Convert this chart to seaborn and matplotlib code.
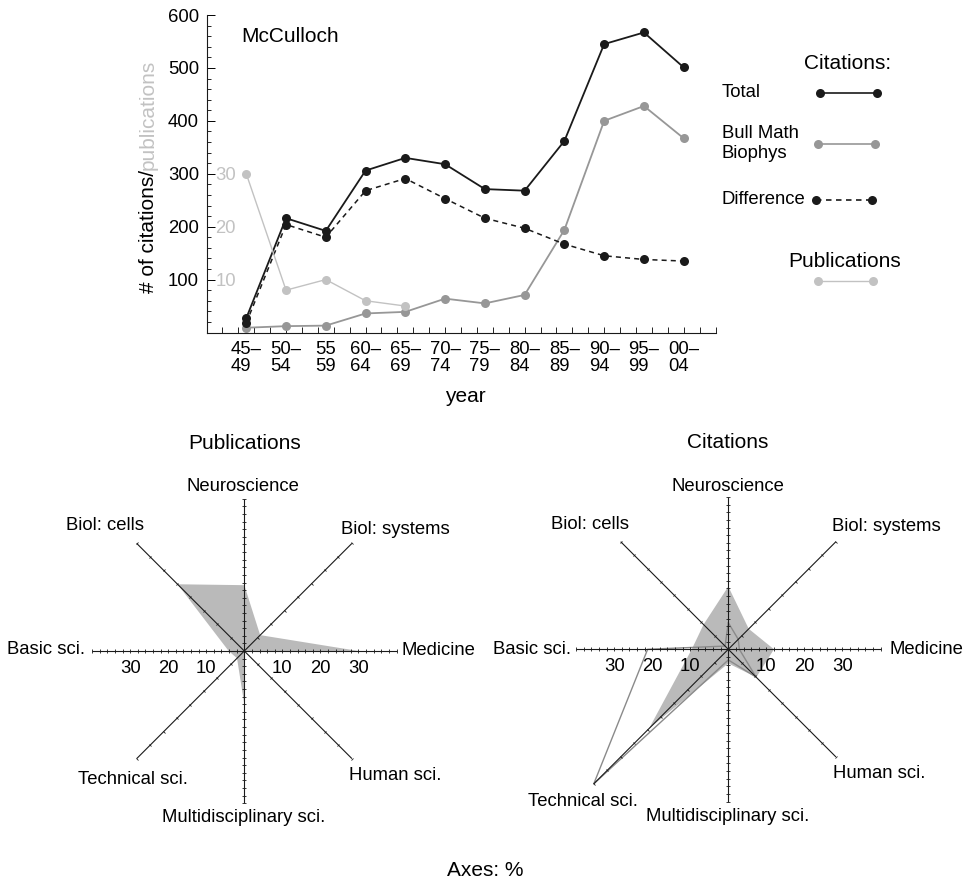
import numpy as np
import pandas as pd
import matplotlib
matplotlib.use("Agg")
import matplotlib.pyplot as plt
from matplotlib.lines import Line2D
from matplotlib.markers import MarkerStyle
from matplotlib.transforms import Affine2D
from matplotlib.ticker import MultipleLocator
import seaborn as sns

sns.set_style("white")
plt.rcParams['font.family'] = ['Liberation Sans', 'DejaVu Sans']
plt.rcParams['text.color'] = 'black'
plt.rcParams['axes.labelcolor'] = 'black'
plt.rcParams['xtick.color'] = 'black'
plt.rcParams['ytick.color'] = 'black'

# --- data: citations / publications over time ---
periods = ["45–\n49", "50–\n54", "55\n59", "60–\n64", "65–\n69", "70–\n74",
           "75–\n79", "80–\n84", "85–\n89", "90–\n94", "95–\n99", "00–\n04"]
period_start = [1945, 1950, 1955, 1960, 1965, 1970, 1975, 1980, 1985, 1990, 1995, 2000]
total = [27, 216, 192, 306, 330, 318, 271, 268, 362, 545, 567, 501]
bull_math = [9, 12, 13, 36, 39, 64, 55, 71, 194, 400, 428, 367]
difference = [18, 204, 180, 268, 291, 253, 216, 197, 167, 145, 138, 135]
publications = [30, 8, 10, 6, 5]

# --- data: distribution over fields (%) ---
fields = ["Neuroscience", "Biol: systems", "Medicine", "Human sci.",
          "Multidisciplinary sci.", "Technical sci.", "Basic sci.", "Biol: cells"]
pub_share = [17.3, 5.9, 30.0, 0.3, 14.0, 2.7, 4.1, 24.8]
cit_share_total = [16.5, 7.6, 12.0, 10.4, 3.7, 29.5, 9.6, 9.2]
cit_share_bmb = [7.0, 3.7, 2.9, 10.3, 2.8, 50.0, 21.2, 1.2]

BLACK = "#1a1a1a"
MID = "#979797"
LIGHT = "#c2c2c2"
FILL = "#bababa"

W, H = 966, 881
fig = plt.figure(figsize=(W / 100, H / 100), dpi=100)


def fx(px):
    return px / W


def fy(py):
    return 1 - py / H


# ---------------- top line chart ----------------
ax = fig.add_axes([fx(206.5), fy(332.5), (715.5 - 206.5) / W, (332.5 - 15) / H])
ax2 = ax.twinx()

df = pd.DataFrame({"start": period_start, "total": total,
                   "bmb": bull_math, "diff": difference})
dfp = pd.DataFrame({"start": period_start[:len(publications)], "pubs": publications})

sns.lineplot(data=dfp, x="start", y="pubs", ax=ax2, color=LIGHT, marker="o",
             markersize=6.5, markeredgewidth=0, linewidth=1.0)
sns.lineplot(data=df, x="start", y="bmb", ax=ax, color=MID, marker="o",
             markersize=6.5, markeredgewidth=0, linewidth=1.3)
sns.lineplot(data=df, x="start", y="diff", ax=ax, color=BLACK, marker="o",
             markersize=6.5, markeredgewidth=0, linewidth=1.1,
             linestyle=(0, (3.3, 2.7)))
sns.lineplot(data=df, x="start", y="total", ax=ax, color=BLACK, marker="o",
             markersize=6.5, markeredgewidth=0, linewidth=1.3)

ax.set_xlim(1940, 2004)
ax.set_ylim(0, 600)
ax2.set_ylim(0, 60)
ax.set_xlabel("")
ax.set_ylabel("")
ax2.set_ylabel("")

sns.despine(ax=ax)
for s in ax2.spines.values():
    s.set_visible(False)
for s in ("left", "bottom"):
    ax.spines[s].set_linewidth(0.8)
    ax.spines[s].set_color(BLACK)

ax.set_yticks(range(100, 700, 100))
ax.yaxis.set_minor_locator(MultipleLocator(20))
ax.tick_params(axis="y", which="major", direction="in", length=6, width=0.7,
               pad=5.5, labelsize=13.3, colors="black", left=True)
ax.tick_params(axis="y", which="minor", direction="in", length=3, width=0.6, left=True)

ax.set_xticks(period_start)
ax.set_xticklabels(periods, linespacing=1.05)
for t in ax.get_xticklabels():
    t.set_multialignment("left")
ax.set_xticks(np.arange(1940, 2005, 2), minor=True)
ax.xaxis.remove_overlapping_locs = False
ax.tick_params(axis="x", which="major", length=0, pad=6, labelsize=13.3, colors="black")
ax.tick_params(axis="x", which="minor", direction="in", length=4, width=0.6, bottom=True)

ax2.yaxis.set_ticks_position("left")
ax2.set_yticks([10, 20, 30])
ax2.tick_params(axis="y", left=True, right=False, labelleft=True, labelright=False,
                length=0, pad=-6.5, labelsize=13.3, labelcolor=LIGHT)
for t in ax2.get_yticklabels():
    t.set_horizontalalignment("left")

# y label in two colours
t1 = fig.text(fx(148), fy(293.3), "# of citations/", rotation=90, ha="center",
              va="bottom", fontsize=15)
ax.annotate("publications", xy=(0.5, 1), xycoords=t1, ha="center", va="bottom",
            rotation=90, fontsize=15, color=LIGHT)
fig.text(fx(465), fy(397), "year", ha="center", va="center", fontsize=15)
fig.text(fx(241), fy(37), "McCulloch", ha="left", va="center", fontsize=15)

# legend
fig.text(fx(848), fy(63.3), "Citations:", ha="center", va="center", fontsize=15)
leg_rows = [
    ("Total", 92.7, 820, 877, BLACK, "-"),
    ("Bull Math\nBiophys", 143.5, 818, 875, MID, "-"),
    ("Difference", 200, 816, 872, BLACK, (0, (3.3, 2.7))),
]
for label, yy, x0, x1, col, ls in leg_rows:
    fig.text(fx(721.7), fy(yy), label, ha="left", va="center", fontsize=13.3)
    fig.add_artist(Line2D([fx(x0), fx(x1)], [fy(yy), fy(yy)], transform=fig.transFigure,
                          color=col, linestyle=ls, linewidth=1.2, marker="o",
                          markersize=6.5, markeredgewidth=0))
fig.text(fx(845), fy(261.7), "Publications", ha="center", va="center", fontsize=15)
fig.add_artist(Line2D([fx(818), fx(873)], [fy(280.7), fy(280.7)], transform=fig.transFigure,
                      color=LIGHT, linewidth=1.0, marker="o", markersize=6.5,
                      markeredgewidth=0))

# ---------------- radar charts ----------------
angles = np.deg2rad(90 - 45 * np.arange(len(fields)))
UNIT = 3.805  # px per %


def radar(cx, cy, filled, outline=None):
    half = 50 * UNIT
    rax = fig.add_axes([fx(cx - half), fy(cy + half), 2 * half / W, 2 * half / H])
    rax.set_xlim(-50, 50)
    rax.set_ylim(-50, 50)
    rax.set_aspect("equal")
    rax.axis("off")

    vals = np.array(filled)
    rax.fill(vals * np.cos(angles), vals * np.sin(angles), color=FILL, lw=0, zorder=1)
    longest = vals.copy()
    if outline is not None:
        ov = np.array(outline)
        ox = np.append(ov * np.cos(angles), ov[0] * np.cos(angles[0]))
        oy = np.append(ov * np.sin(angles), ov[0] * np.sin(angles[0]))
        rax.plot(ox, oy, color="#8a8a8a", lw=1.0, zorder=2)
        longest = np.maximum(longest, ov)

    for i, (ang, lv) in enumerate(zip(angles, longest)):
        L = max(40, lv)
        rax.plot([0, L * np.cos(ang)], [0, L * np.sin(ang)], color=BLACK, lw=0.8,
                 zorder=3, solid_capstyle="butt")
        straight = i % 2 == 0
        step = 2 if straight else 5
        r = np.arange(step, L + 0.01, step)
        mk = MarkerStyle("|", transform=Affine2D().rotate_deg(np.rad2deg(ang)))
        rax.plot(r * np.cos(ang), r * np.sin(ang), ls="none", marker=mk,
                 markersize=3.2 if straight else 1.8, markeredgewidth=0.6,
                 color=BLACK, zorder=3)

    for k in (10, 20, 30):
        for sgn in (-1, 1):
            rax.annotate(str(k), xy=(sgn * k, 0), xytext=(0, -17.3),
                         textcoords="offset pixels", ha="center", va="center",
                         fontsize=13.3)
    return rax


radar(244.3, 651, pub_share)
radar(728.3, 649.3, cit_share_total, cit_share_bmb)

left_labels = [(243, 486), (395.3, 529.3), (438, 650.7), (395.5, 775),
               (244, 817), (132.8, 779.3), (46, 650), (105.5, 526)]
right_labels = [(728.3, 486), (886.3, 526.7), (926.7, 650), (878.8, 773.3),
                (728, 816.7), (583, 801.7), (532, 650), (590, 524.3)]
for name, (lx, ly), (rx, ry) in zip(fields, left_labels, right_labels):
    fig.text(fx(lx), fy(ly), name, ha="center", va="center", fontsize=13.3)
    fig.text(fx(rx), fy(ry), name, ha="center", va="center", fontsize=13.3)

fig.text(fx(244.6), fy(443.3), "Publications", ha="center", va="center", fontsize=15)
fig.text(fx(728), fy(443), "Citations", ha="center", va="center", fontsize=15)
fig.text(fx(485), fy(870), "Axes: %", ha="center", va="center", fontsize=15)

fig.savefig("out.png", dpi=100)
